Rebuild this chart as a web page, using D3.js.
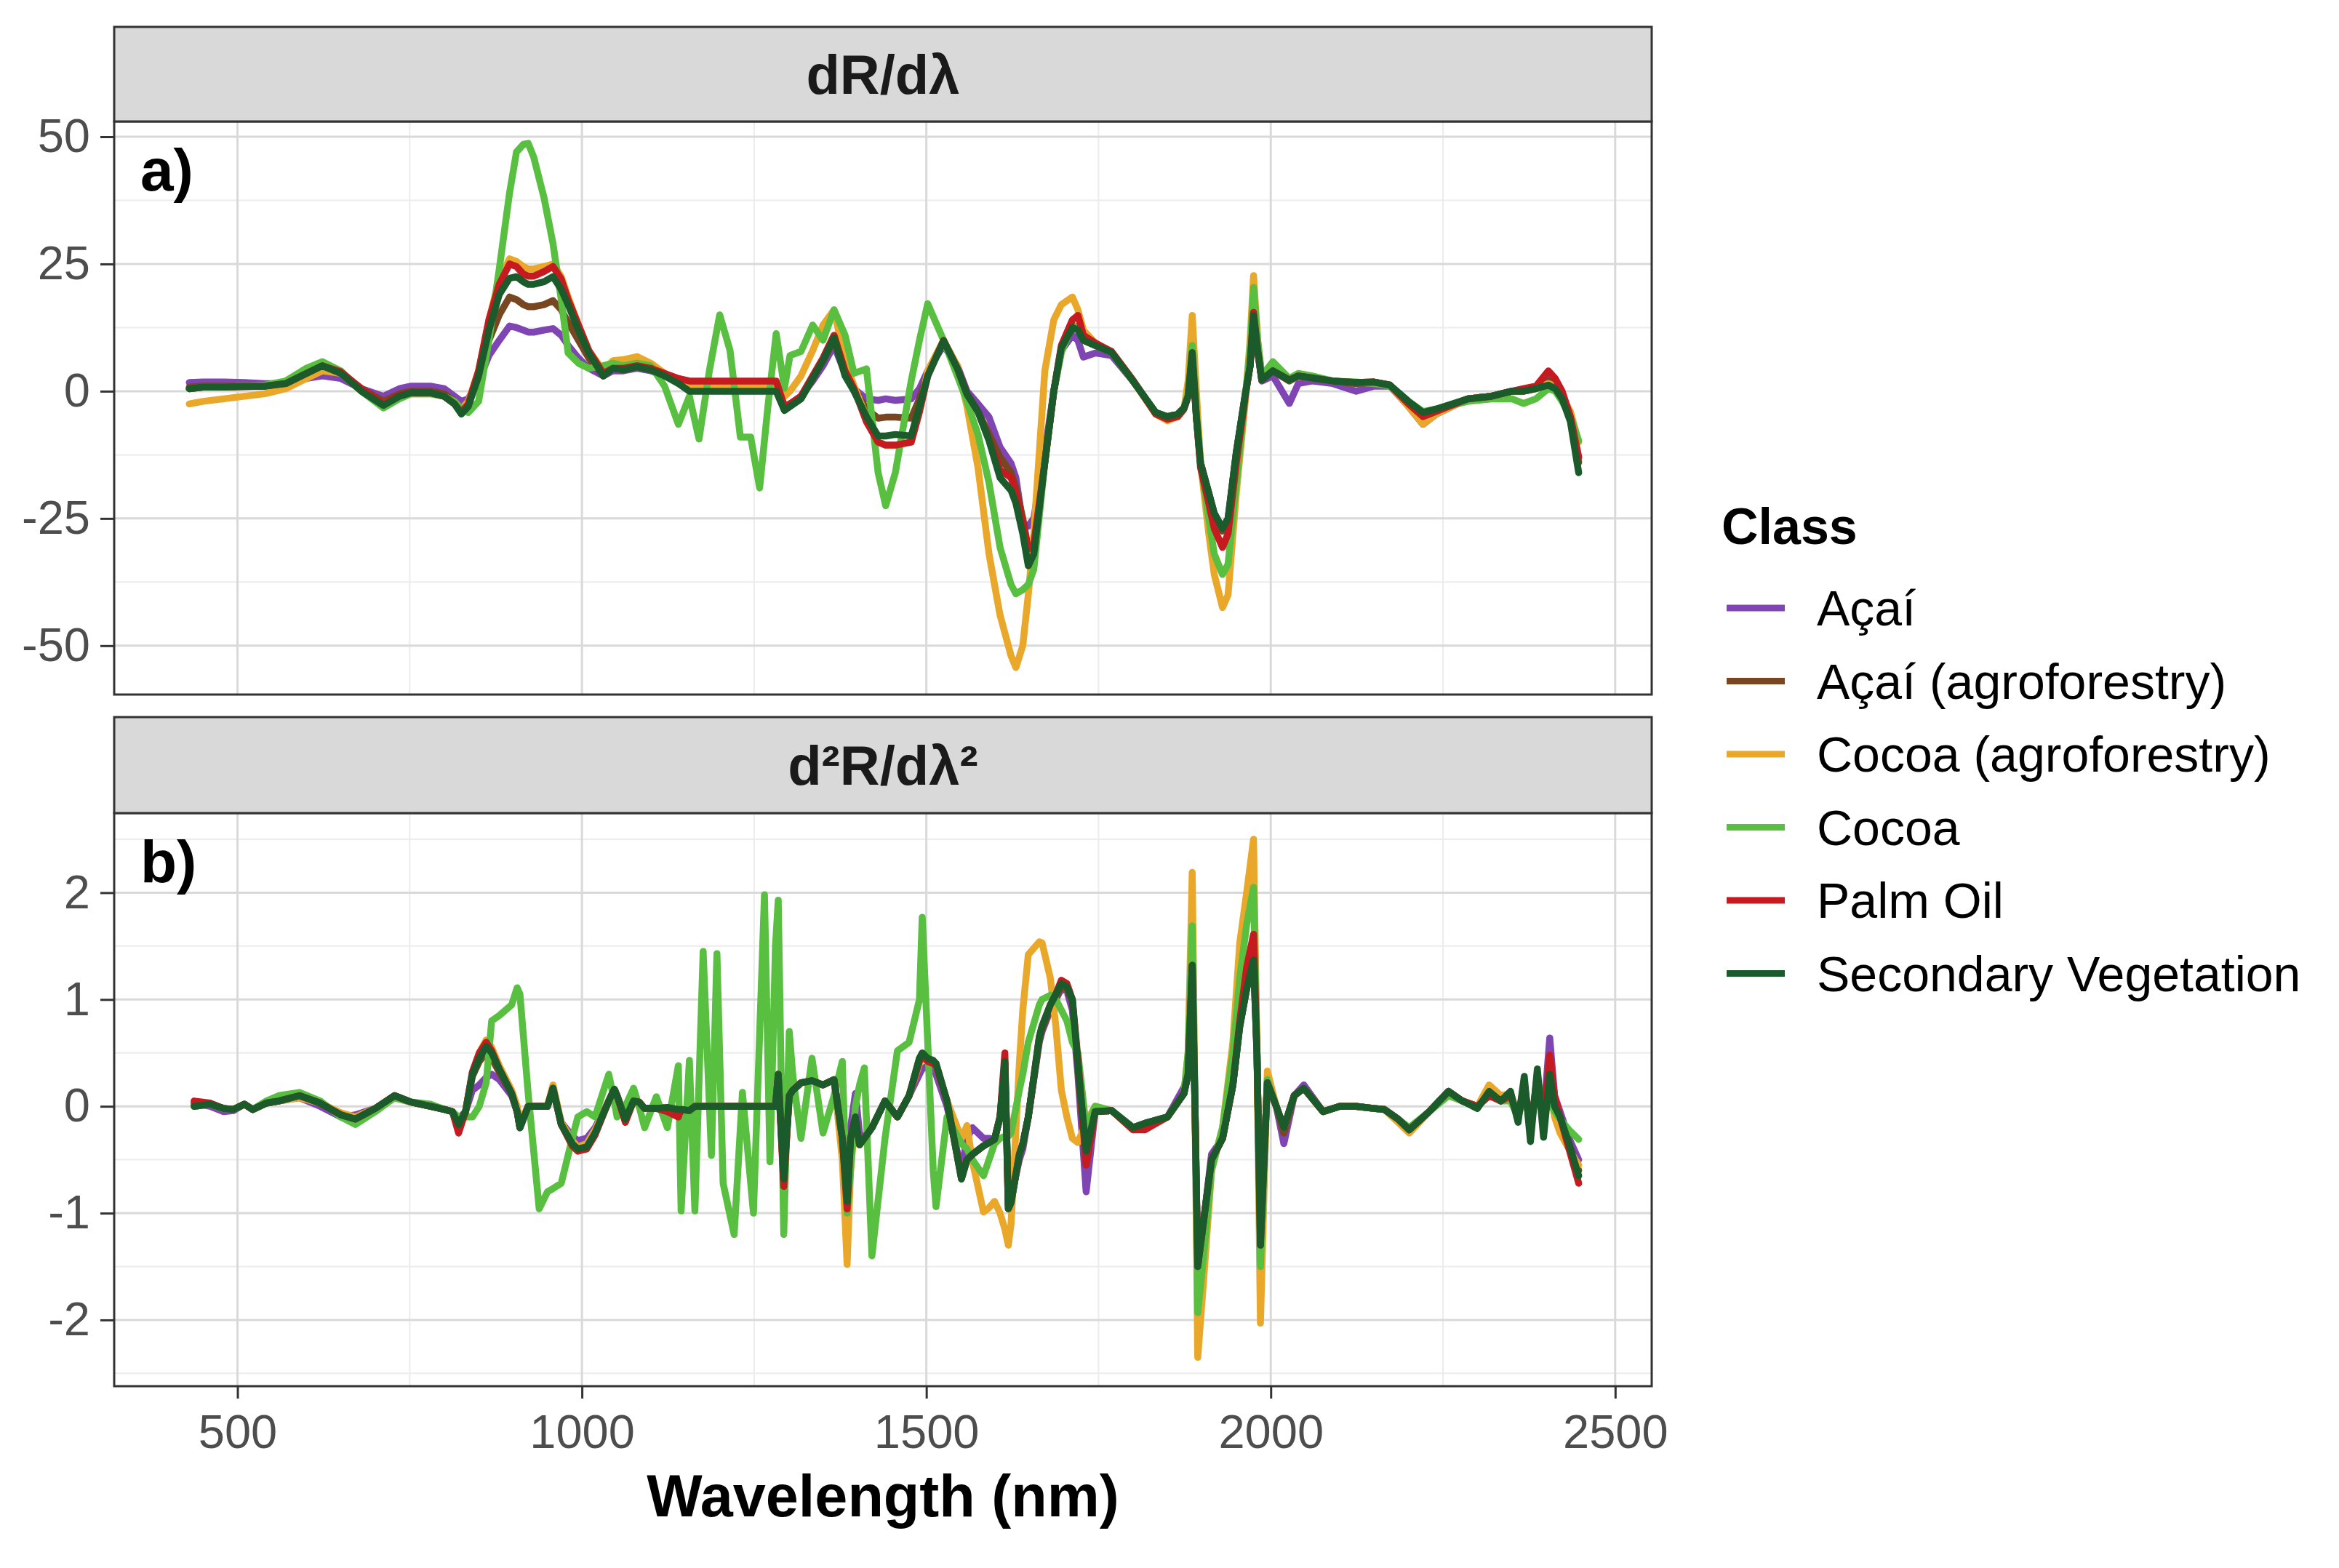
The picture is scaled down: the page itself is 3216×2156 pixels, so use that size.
<!DOCTYPE html>
<html lang="en">
<head>
<meta charset="utf-8">
<title>Derivative spectra by class</title>
<script src="https://d3js.org/d3.v7.min.js"></script>
<style>
  body { margin: 0; background: #ffffff; }
  text { font-family: "Liberation Sans", Arial, sans-serif; }
</style>
</head>
<body>
<script>
// ---- data ----
const classes = ["Açaí", "Açaí (agroforestry)", "Cocoa (agroforestry)", "Cocoa", "Palm Oil", "Secondary Vegetation"];
const classColors = ["#7f45b2", "#784621", "#e9a82a", "#58bf40", "#c51a1f", "#1b5b2b"];
const panelTitles = ["dR/dλ", "d²R/dλ²"];
const panelTags = ["a)", "b)"];
const xTicks = [500, 1000, 1500, 2000, 2500];
const xMinor = [750, 1250, 1750, 2250];
const yTicksA = [-50, -25, 0, 25, 50];
const yMinorA = [-37.5, -12.5, 12.5, 37.5];
const yTicksB = [-2, -1, 0, 1, 2];
const yMinorB = [-2.5, -1.5, -0.5, 0.5, 1.5, 2.5];

// first derivative, wavelength grid (nm)
const wlA = [
  430, 450, 480, 510, 540, 570, 600, 623, 650, 680,
  712, 735, 752, 780, 800, 815, 825, 835, 850, 865,
  880, 895, 905, 915, 922, 930, 945, 958, 970, 980,
  995, 1010, 1031, 1045, 1060, 1080, 1100, 1120, 1140, 1156,
  1170, 1185, 1200, 1215, 1230, 1245, 1258, 1270, 1282, 1294,
  1302, 1318, 1335, 1350, 1366, 1382, 1395, 1413, 1430, 1441,
  1455, 1478, 1490, 1502, 1525, 1545, 1559, 1575, 1591, 1607,
  1623, 1630, 1640, 1648, 1656, 1672, 1685, 1696, 1712, 1720,
  1728, 1745, 1769, 1800, 1833, 1850, 1865, 1874, 1880, 1886,
  1892, 1898, 1910, 1918, 1930, 1938, 1950, 1963, 1970, 1975,
  1981, 1987, 2003, 2027, 2040, 2060, 2090, 2124, 2150, 2173,
  2200, 2221, 2240, 2286, 2320, 2350, 2367, 2385, 2403, 2413,
  2423, 2435, 2447];

const d1Acai = [
  1.7, 1.8, 1.8, 1.7, 1.5, 1.5, 2.5, 3.0, 2.5, 0.5,
  -1.0, 0.5, 1.0, 1.0, 0.5, -1.0, -2.0, -1.5, 2.0, 7.0,
  10.0, 12.8, 12.5, 12.0, 11.6, 11.6, 12.0, 12.3, 11.0, 9.0,
  6.5, 4.5, 3.0, 4.0, 4.0, 4.5, 4.0, 3.0, 2.0, 1.5,
  1.5, 1.5, 1.5, 1.5, 1.5, 1.5, 1.5, 1.5, 1.5, -3.0,
  -2.5, -1.0, 2.0, 5.0, 9.0, 3.5, 0.5, -1.5, -1.8, -1.5,
  -1.8, -1.5, 0.5, 4.0, 9.0, 5.0, 0.0, -2.5, -5.1, -11.0,
  -14.2, -17.0, -26.0, -26.5, -25.0, -12.0, 0.0, 8.0, 11.0, 10.0,
  6.7, 7.5, 7.0, 2.0, -4.2, -5.0, -4.5, -3.3, -1.0, 7.0,
  -5.0, -14.0, -20.0, -24.0, -27.0, -25.0, -12.0, -0.6, 5.0, 14.0,
  8.0, 2.0, 3.0, -2.4, 1.5, 2.0, 1.5, 0.0, 1.0, 1.0,
  -3.0, -6.5, -4.5, -1.5, -1.0, 0.0, 0.0, 0.5, 2.5, 1.5,
  -0.5, -5.0, -13.0];

const d1AcaiAgro = [
  0.8, 1.0, 1.0, 1.0, 1.0, 1.3, 3.0, 4.5, 3.5, 0.5,
  -2.0, -0.5, 0.0, 0.0, -0.5, -2.0, -3.5, -2.0, 3.0, 10.0,
  15.0, 18.5, 18.0, 17.0, 16.6, 16.6, 17.0, 17.8, 16.0, 13.5,
  10.0, 6.5, 3.0, 4.5, 4.2, 4.8, 4.2, 3.0, 2.0, 1.5,
  1.5, 1.5, 1.5, 1.5, 1.5, 1.5, 1.5, 1.5, 1.5, -3.5,
  -3.0, -1.5, 2.5, 6.0, 10.0, 3.5, 0.5, -3.5, -5.3, -5.1,
  -5.1, -5.3, -1.5, 3.5, 9.9, 4.5, -0.5, -4.0, -8.5, -13.0,
  -16.0, -19.0, -25.0, -31.0, -30.0, -14.0, 0.0, 8.5, 12.5, 12.5,
  10.0, 9.0, 7.6, 2.0, -4.2, -5.0, -4.5, -3.3, -1.0, 7.5,
  -5.0, -14.0, -20.0, -24.5, -27.5, -25.5, -12.0, -0.6, 5.0, 14.5,
  8.0, 2.2, 4.0, 2.0, 3.0, 2.6, 2.0, 1.5, 1.8, 1.2,
  -2.5, -5.0, -3.8, -1.5, -1.0, 0.0, 0.0, 0.5, 2.0, 1.0,
  -1.0, -5.5, -14.0];

const d1CocoaAgro = [
  -2.5, -2.0, -1.5, -1.0, -0.5, 0.5, 2.5, 4.0, 3.5, 0.0,
  -2.5, -1.0, -0.5, -0.5, -1.0, -2.0, -3.5, -2.0, 4.0, 14.0,
  22.0, 26.0, 25.5, 24.5, 24.0, 24.0, 24.5, 25.0, 22.5, 18.5,
  13.0, 8.0, 4.0, 6.0, 6.2, 6.8, 5.5, 3.5, 1.5, 1.3,
  1.3, 1.3, 1.3, 1.3, 1.3, 1.3, 1.3, 1.3, 1.3, -1.0,
  0.0, 3.0, 8.0, 13.0, 16.0, 6.0, 1.0, -5.0, -10.0, -10.6,
  -10.6, -10.0, -4.0, 4.0, 10.0, 5.0, -3.0, -15.0, -32.0, -44.0,
  -52.0, -54.3, -50.0, -40.0, -28.0, 4.0, 14.0, 17.0, 18.5, 16.0,
  12.0, 9.5, 7.6, 2.0, -4.5, -5.8, -5.0, -3.5, 2.0, 14.9,
  0.0, -14.0, -28.0, -36.0, -42.5, -40.0, -20.0, -2.0, 10.0, 22.7,
  10.0, 3.0, 5.0, 2.2, 3.0, 2.6, 2.0, 1.7, 1.8, 1.2,
  -3.0, -6.5, -4.5, -1.5, -1.0, 0.0, 0.0, 0.5, 1.5, 1.0,
  -1.0, -4.0, -10.0];

const d1Cocoa = [
  0.5, 0.8, 0.8, 1.0, 1.2, 2.0, 4.5, 5.8, 4.0, 0.0,
  -3.3, -1.5, -0.5, -0.5, -1.0, -2.0, -3.5, -4.2, -2.0, 10.0,
  24.0, 39.0, 47.0, 48.5, 48.7, 46.0, 38.0, 29.0, 18.0, 7.5,
  5.5, 4.5, 5.0, 5.5, 5.0, 5.5, 5.0, 1.0, -6.5, -1.0,
  -9.4, 4.0, 15.0, 8.0, -9.0, -9.0, -19.0, -3.0, 11.3, 0.6,
  7.0, 7.8, 13.0, 10.0, 16.0, 11.0, 3.5, 4.4, -16.0, -22.5,
  -16.0, 2.0, 10.0, 17.2, 10.0, 3.0, -2.0, -8.5, -18.0, -30.7,
  -38.0, -39.8, -39.0, -38.0, -35.0, -14.0, 0.0, 7.6, 13.0, 12.5,
  10.0, 9.0, 7.6, 2.0, -4.2, -5.0, -4.5, -3.3, -0.5, 9.0,
  -4.0, -14.0, -25.0, -32.0, -36.0, -34.0, -18.0, -1.0, 8.0, 20.4,
  10.0, 3.0, 5.8, 2.5, 3.5, 3.0, 2.0, 1.8, 1.5, 1.0,
  -2.0, -4.0, -3.5, -2.0, -1.5, -1.5, -2.4, -1.5, 0.5, 0.0,
  -2.0, -5.0, -9.7];

const d1PalmOil = [
  0.5, 0.8, 0.8, 0.9, 1.0, 1.5, 3.5, 5.0, 3.8, 0.5,
  -2.5, -0.8, -0.3, -0.3, -1.0, -2.5, -4.2, -2.5, 4.0, 14.0,
  21.0, 25.0, 24.5, 23.0, 22.6, 22.6, 23.5, 24.5, 22.0, 18.0,
  13.0, 8.0, 3.5, 4.5, 4.5, 5.0, 4.5, 3.5, 2.5, 2.0,
  2.0, 2.0, 2.0, 2.0, 2.0, 2.0, 2.0, 2.0, 2.0, -3.0,
  -2.5, -1.0, 3.0, 6.5, 11.0, 4.0, 0.5, -6.0, -10.0, -10.6,
  -10.6, -10.0, -4.0, 3.0, 10.0, 4.5, -0.5, -4.0, -9.5, -15.5,
  -17.0, -20.0, -26.0, -31.0, -30.0, -14.0, 0.0, 9.0, 14.0, 14.9,
  11.0, 9.5, 7.8, 2.2, -4.5, -5.5, -5.0, -3.5, -1.0, 7.0,
  -5.0, -15.0, -22.0, -27.0, -30.7, -28.0, -14.0, -1.0, 5.0, 15.5,
  8.0, 2.2, 4.0, 2.2, 3.0, 2.6, 2.0, 1.7, 1.8, 1.2,
  -2.5, -5.0, -4.0, -1.5, -1.0, 0.0, 0.5, 1.0, 4.0, 2.5,
  0.0, -5.0, -13.0];

const d1Secondary = [
  0.5, 0.8, 0.8, 0.9, 1.0, 1.5, 3.5, 5.0, 3.5, 0.0,
  -2.8, -1.0, -0.3, -0.3, -1.0, -2.5, -4.5, -3.0, 3.0, 12.0,
  19.0, 22.2, 22.5, 21.5, 21.0, 21.0, 21.5, 22.5, 20.0, 17.0,
  12.0, 7.5, 3.0, 4.5, 4.2, 4.8, 4.2, 3.0, 1.5, 0.0,
  0.0, 0.0, 0.0, 0.0, 0.0, 0.0, 0.0, 0.0, 0.0, -3.8,
  -3.0, -1.5, 2.5, 6.0, 10.5, 3.0, 0.0, -5.0, -8.8, -8.8,
  -8.5, -8.8, -3.0, 3.0, 9.9, 4.5, -0.6, -4.0, -9.7, -17.0,
  -19.5, -22.0, -28.0, -34.3, -32.0, -14.0, 0.0, 8.5, 12.5, 12.0,
  10.0, 9.0, 7.6, 2.0, -4.2, -5.0, -4.5, -3.3, -1.0, 7.6,
  -5.0, -14.2, -20.0, -24.0, -27.0, -25.0, -12.0, -0.6, 5.0, 14.9,
  8.0, 2.2, 4.0, 2.2, 3.0, 2.6, 2.0, 1.7, 1.8, 1.2,
  -2.0, -4.2, -3.5, -1.5, -1.0, 0.0, 0.0, 0.5, 1.2, 0.5,
  -1.5, -6.0, -16.0];

// second derivative, wavelength grid (nm)
const wlB = [
  437, 460, 480, 494, 510, 522, 542, 560, 590, 620,
  650, 671, 700, 728, 752, 780, 801, 812, 821, 831,
  841, 851, 861, 869, 880, 898, 906, 910, 922, 938,
  950, 958, 970, 986, 994, 1007, 1019, 1039, 1047, 1051,
  1063, 1075, 1083, 1091, 1108, 1124, 1140, 1144, 1156, 1164,
  1176, 1188, 1196, 1205, 1221, 1233, 1249, 1265, 1273, 1281,
  1285, 1293, 1301, 1306, 1318, 1334, 1350, 1366, 1378, 1385,
  1390, 1397, 1403, 1410, 1421, 1440, 1458, 1475, 1490, 1494,
  1502, 1510, 1514, 1530, 1551, 1559, 1567, 1583, 1591, 1599,
  1607, 1614, 1619, 1623, 1635, 1640, 1648, 1664, 1668, 1680,
  1688, 1696, 1704, 1712, 1720, 1732, 1745, 1769, 1800, 1817,
  1850, 1874, 1880, 1886, 1890, 1894, 1904, 1914, 1930, 1945,
  1955, 1965, 1975, 1980, 1985, 1995, 2008, 2019, 2034, 2048,
  2076, 2100, 2124, 2150, 2165, 2185, 2201, 2230, 2258, 2278,
  2300, 2317, 2334, 2348, 2359, 2368, 2377, 2387, 2396, 2405,
  2412, 2420, 2433, 2447];

const d2Acai = [
  0.03, 0.0, -0.05, -0.04, 0.02, -0.03, 0.03, 0.05, 0.08, 0.0,
  -0.1, -0.08, -0.02, 0.08, 0.04, 0.0, -0.03, -0.05, -0.12, -0.05,
  0.15, 0.2, 0.27, 0.3, 0.25, 0.1, -0.05, -0.2, 0.0, 0.0,
  0.0, 0.15, -0.15, -0.28, -0.32, -0.3, -0.2, 0.05, 0.16, 0.1,
  -0.1, 0.05, 0.04, -0.02, -0.02, -0.01, -0.03, -0.03, -0.04, 0.0,
  0.0, 0.0, 0.0, 0.0, 0.0, 0.0, 0.0, 0.0, 0.0, 0.0,
  0.3, -0.55, 0.1, 0.15, 0.22, 0.24, 0.2, 0.25, -0.3, -0.7,
  -0.2, 0.12, -0.25, -0.3, -0.2, 0.05, -0.1, 0.1, 0.3, 0.35,
  0.38, 0.35, 0.3, 0.0, -0.6, -0.3, -0.2, -0.3, -0.3, -0.31,
  -0.1, 0.35, -0.8, -0.85, -0.5, -0.4, -0.1, 0.6, 0.7, 0.9,
  1.0, 1.1, 1.08, 0.9, 0.3, -0.8, -0.05, -0.04, -0.2, -0.16,
  -0.1, 0.18, 0.3, 1.3, 0.0, -1.5, -1.0, -0.45, -0.3, 0.2,
  0.75, 1.1, 1.35, 0.5, -1.3, 0.22, 0.0, -0.35, 0.1, 0.2,
  -0.05, 0.0, 0.0, -0.02, -0.03, -0.12, -0.22, -0.05, 0.14, 0.05,
  0.0, 0.12, 0.05, 0.12, -0.1, 0.15, -0.15, 0.2, -0.1, 0.64,
  0.1, -0.05, -0.3, -0.5];

const d2AcaiAgro = [
  0.02, 0.02, -0.02, -0.03, 0.02, -0.03, 0.03, 0.05, 0.1, 0.03,
  -0.08, -0.12, -0.02, 0.1, 0.04, 0.0, -0.03, -0.05, -0.15, -0.05,
  0.28, 0.42, 0.5, 0.45, 0.32, 0.12, -0.05, -0.2, 0.0, 0.0,
  0.0, 0.17, -0.17, -0.33, -0.38, -0.36, -0.24, 0.05, 0.16, 0.1,
  -0.12, 0.05, 0.04, -0.02, -0.02, -0.01, -0.03, -0.03, -0.04, 0.0,
  0.0, 0.0, 0.0, 0.0, 0.0, 0.0, 0.0, 0.0, 0.0, 0.0,
  0.3, -0.68, 0.1, 0.15, 0.22, 0.24, 0.2, 0.25, -0.3, -0.9,
  -0.3, -0.1, -0.36, -0.3, -0.2, 0.05, -0.1, 0.1, 0.45, 0.48,
  0.45, 0.42, 0.4, 0.05, -0.66, -0.5, -0.45, -0.37, -0.34, -0.31,
  -0.1, 0.4, -0.93, -0.9, -0.45, -0.35, -0.1, 0.62, 0.72, 0.92,
  1.02, 1.12, 1.1, 0.98, 0.36, -0.55, -0.05, -0.04, -0.2, -0.16,
  -0.1, 0.12, 0.3, 1.3, 0.0, -1.5, -1.0, -0.5, -0.3, 0.2,
  0.75, 1.1, 1.4, 0.5, -1.3, 0.22, 0.0, -0.25, 0.1, 0.17,
  -0.05, 0.0, 0.0, -0.02, -0.03, -0.12, -0.22, -0.05, 0.14, 0.05,
  0.0, 0.12, 0.05, 0.12, -0.12, 0.22, -0.25, 0.3, -0.2, 0.35,
  0.0, -0.1, -0.35, -0.6];

const d2CocoaAgro = [
  0.0, 0.02, -0.02, -0.03, 0.02, -0.03, 0.03, 0.05, 0.08, 0.03,
  -0.06, -0.1, -0.02, 0.08, 0.04, 0.0, -0.03, -0.05, -0.2, -0.05,
  0.32, 0.5, 0.62, 0.55, 0.38, 0.15, 0.0, -0.15, 0.0, 0.0,
  0.0, 0.2, -0.15, -0.32, -0.38, -0.35, -0.22, 0.05, 0.16, 0.1,
  -0.1, 0.05, 0.04, -0.02, -0.02, -0.01, -0.03, -0.03, -0.04, 0.0,
  0.0, 0.0, 0.0, 0.0, 0.0, 0.0, 0.0, 0.0, 0.0, 0.0,
  0.3, -0.7, 0.1, 0.15, 0.22, 0.24, 0.2, 0.25, -0.5, -1.48,
  -0.6, -0.1, -0.36, -0.3, -0.2, 0.05, -0.1, 0.1, 0.4, 0.45,
  0.42, 0.4, 0.38, 0.05, -0.3, -0.18, -0.52, -0.99, -0.95, -0.89,
  -1.0, -1.15, -1.3, -1.1, 0.4, 0.9, 1.42, 1.54, 1.53, 1.2,
  0.75, 0.15, -0.1, -0.3, -0.34, -0.15, 0.0, -0.04, -0.22, -0.2,
  -0.1, 0.12, 0.5, 2.19, 0.0, -2.35, -1.5, -0.6, -0.2, 0.6,
  1.53, 2.0, 2.5, 0.5, -2.03, 0.33, 0.0, -0.2, 0.1, 0.17,
  -0.05, 0.0, 0.0, -0.02, -0.03, -0.15, -0.25, -0.05, 0.14, 0.05,
  0.0, 0.2, 0.1, 0.12, -0.08, 0.15, -0.15, 0.2, -0.12, 0.2,
  -0.1, -0.25, -0.4, -0.55];

const d2Cocoa = [
  0.0, 0.02, -0.02, -0.03, 0.02, -0.03, 0.05, 0.1, 0.13, 0.05,
  -0.1, -0.17, -0.05, 0.08, 0.04, 0.02, -0.03, -0.05, -0.1, -0.1,
  -0.1, 0.0, 0.22, 0.8, 0.85, 0.95, 1.11, 1.05, 0.12, -0.96,
  -0.8, -0.77, -0.72, -0.3, -0.1, -0.05, -0.1, 0.3, 0.05, -0.1,
  0.0, 0.17, 0.0, -0.2, 0.09, -0.2, 0.38, -0.98, 0.43, -0.98,
  1.45, -0.46, 1.43, -0.72, -1.2, 0.13, -1.0, 1.98, -0.52, 1.5,
  1.93, -1.2, 0.7, 0.3, -0.3, 0.45, -0.25, 0.1, 0.42, -1.0,
  -0.6, 0.0, 0.2, 0.36, -1.4, -0.3, 0.52, 0.6, 1.0, 1.77,
  0.6, -0.6, -0.94, -0.1, -0.35, -0.4, -0.5, -0.65, -0.5, -0.35,
  -0.3, -0.28, -0.28, -0.25, 0.15, 0.3, 0.6, 0.95, 1.0, 1.04,
  1.0, 0.9, 0.8, 0.6, 0.5, -0.2, 0.0, -0.04, -0.2, -0.2,
  -0.1, 0.12, 0.5, 1.69, 0.0, -1.93, -1.3, -0.6, -0.2, 0.5,
  1.2, 1.7, 2.05, 0.5, -1.5, 0.25, 0.0, -0.2, 0.1, 0.17,
  -0.05, 0.0, 0.0, -0.02, -0.03, -0.12, -0.2, -0.05, 0.1, 0.05,
  0.0, 0.1, 0.05, 0.05, -0.1, 0.1, -0.12, 0.1, -0.08, 0.05,
  -0.05, -0.12, -0.22, -0.31];

const d2PalmOil = [
  0.05, 0.03, -0.02, -0.03, 0.02, -0.03, 0.03, 0.05, 0.1, 0.03,
  -0.08, -0.12, -0.02, 0.1, 0.04, 0.0, -0.03, -0.05, -0.25, -0.05,
  0.32, 0.5, 0.6, 0.52, 0.35, 0.12, -0.05, -0.2, 0.0, 0.0,
  0.0, 0.17, -0.17, -0.37, -0.42, -0.4, -0.27, 0.05, 0.16, 0.1,
  -0.15, 0.05, 0.04, -0.02, -0.02, -0.05, -0.1, -0.03, -0.04, 0.0,
  0.0, 0.0, 0.0, 0.0, 0.0, 0.0, 0.0, 0.0, 0.0, 0.0,
  0.3, -0.75, 0.1, 0.15, 0.22, 0.24, 0.2, 0.25, -0.3, -0.96,
  -0.3, -0.1, -0.36, -0.3, -0.2, 0.05, -0.1, 0.1, 0.42, 0.48,
  0.42, 0.4, 0.38, 0.05, -0.68, -0.5, -0.45, -0.37, -0.34, -0.31,
  -0.1, 0.5, -0.96, -0.9, -0.45, -0.35, -0.1, 0.65, 0.75, 0.95,
  1.05, 1.18, 1.15, 1.0, 0.45, -0.55, -0.05, -0.04, -0.22, -0.22,
  -0.1, 0.12, 0.3, 1.32, 0.0, -1.5, -1.0, -0.5, -0.3, 0.2,
  0.8, 1.3, 1.61, 0.5, -1.3, 0.22, 0.0, -0.2, 0.1, 0.17,
  -0.05, 0.0, 0.0, -0.02, -0.03, -0.12, -0.22, -0.05, 0.14, 0.05,
  0.0, 0.1, 0.05, 0.1, -0.1, 0.2, -0.2, 0.25, -0.15, 0.48,
  0.1, -0.1, -0.4, -0.72];

const d2Secondary = [
  0.0, 0.02, -0.02, -0.03, 0.02, -0.03, 0.03, 0.05, 0.1, 0.03,
  -0.08, -0.12, -0.02, 0.1, 0.04, 0.0, -0.03, -0.05, -0.17, -0.05,
  0.3, 0.45, 0.56, 0.5, 0.35, 0.12, -0.05, -0.2, 0.0, 0.0,
  0.0, 0.17, -0.17, -0.35, -0.4, -0.38, -0.25, 0.05, 0.16, 0.1,
  -0.12, 0.05, 0.04, -0.02, -0.02, -0.01, -0.03, -0.03, -0.04, 0.0,
  0.0, 0.0, 0.0, 0.0, 0.0, 0.0, 0.0, 0.0, 0.0, 0.0,
  0.3, -0.68, 0.1, 0.15, 0.22, 0.24, 0.2, 0.25, -0.3, -0.89,
  -0.3, -0.1, -0.36, -0.3, -0.2, 0.05, -0.1, 0.1, 0.45, 0.5,
  0.45, 0.43, 0.4, 0.05, -0.68, -0.5, -0.45, -0.37, -0.34, -0.31,
  -0.1, 0.42, -0.96, -0.9, -0.45, -0.35, -0.1, 0.65, 0.75, 0.95,
  1.05, 1.15, 1.12, 1.0, 0.39, -0.42, -0.05, -0.04, -0.2, -0.16,
  -0.1, 0.12, 0.3, 1.32, 0.0, -1.5, -1.0, -0.5, -0.3, 0.2,
  0.75, 1.1, 1.37, 0.5, -1.3, 0.22, 0.0, -0.2, 0.1, 0.17,
  -0.05, 0.0, 0.0, -0.02, -0.03, -0.12, -0.22, -0.05, 0.14, 0.05,
  -0.02, 0.14, 0.05, 0.14, -0.15, 0.28, -0.33, 0.35, -0.29, 0.3,
  0.0, -0.1, -0.35, -0.65];

// ---- layout ----
const W = 3216, H = 2156;
const plotLeft = 157, plotRight = 2271;
const panels = [
  { stripTop: 37, top: 167, bottom: 955, wl: wlA,
    values: [d1Acai, d1AcaiAgro, d1CocoaAgro, d1Cocoa, d1PalmOil, d1Secondary],
    yDomain: [-59.6, 53.0], ticks: yTicksA, minor: yMinorA },
  { stripTop: 986, top: 1118, bottom: 1906, wl: wlB,
    values: [d2Acai, d2AcaiAgro, d2CocoaAgro, d2Cocoa, d2PalmOil, d2Secondary],
    yDomain: [-2.62, 2.745], ticks: yTicksB, minor: yMinorB }
];

const svg = d3.select("body").append("svg")
    .attr("width", W)
    .attr("height", H)
    .style("background-color", "#ffffff");

const x = d3.scaleLinear()
    .domain([321, 2553])
    .range([plotLeft, plotRight]);

panels.forEach(function(p, k) {
    const y = d3.scaleLinear().domain(p.yDomain).range([p.bottom, p.top]);
    const g = svg.append("g");

    // grid
    g.selectAll(".xminor").data(xMinor).join("line")
        .attr("x1", d => x(d)).attr("x2", d => x(d))
        .attr("y1", p.top).attr("y2", p.bottom)
        .attr("stroke", "#ececec").attr("stroke-width", 2);
    g.selectAll(".yminor").data(p.minor).join("line")
        .attr("x1", plotLeft).attr("x2", plotRight)
        .attr("y1", d => y(d)).attr("y2", d => y(d))
        .attr("stroke", "#ececec").attr("stroke-width", 2);
    g.selectAll(".xmajor").data(xTicks).join("line")
        .attr("x1", d => x(d)).attr("x2", d => x(d))
        .attr("y1", p.top).attr("y2", p.bottom)
        .attr("stroke", "#d9d9d9").attr("stroke-width", 3);
    g.selectAll(".ymajor").data(p.ticks).join("line")
        .attr("x1", plotLeft).attr("x2", plotRight)
        .attr("y1", d => y(d)).attr("y2", d => y(d))
        .attr("stroke", "#d9d9d9").attr("stroke-width", 3);

    // spectra, drawn in class order so Secondary Vegetation ends on top
    const line = d3.line()
        .x(d => x(d[0]))
        .y(d => y(d[1]));
    p.values.forEach(function(vals, i) {
        if (vals.length !== p.wl.length) console.warn("length mismatch", k, i, vals.length, p.wl.length);
        const pts = p.wl.map((w, j) => [w, vals[j]]);
        g.append("path")
            .datum(pts)
            .attr("d", line)
            .attr("fill", "none")
            .attr("stroke", classColors[i])
            .attr("stroke-width", 9.5)
            .attr("stroke-linejoin", "round")
            .attr("stroke-linecap", "round");
    });

    // panel border
    g.append("rect")
        .attr("x", plotLeft).attr("y", p.top)
        .attr("width", plotRight - plotLeft).attr("height", p.bottom - p.top)
        .attr("fill", "none").attr("stroke", "#333333").attr("stroke-width", 3);

    // strip
    g.append("rect")
        .attr("x", plotLeft).attr("y", p.stripTop)
        .attr("width", plotRight - plotLeft).attr("height", p.top - p.stripTop)
        .attr("fill", "#d9d9d9").attr("stroke", "#333333").attr("stroke-width", 3);
    g.append("text")
        .attr("x", (plotLeft + plotRight) / 2)
        .attr("y", (p.stripTop + p.top) / 2)
        .attr("dy", "0.36em")
        .attr("text-anchor", "middle")
        .attr("font-size", "76px")
        .attr("font-weight", 700)
        .attr("fill", "#1a1a1a")
        .text(panelTitles[k]);

    // panel tag
    g.append("text")
        .attr("x", plotLeft + 36)
        .attr("y", p.top + 95)
        .attr("font-size", "82px")
        .attr("font-weight", 700)
        .attr("fill", "#000000")
        .text(panelTags[k]);

    // y axis
    const yAxis = d3.axisLeft(y)
        .tickValues(p.ticks)
        .tickSize(19)
        .tickPadding(14)
        .tickFormat(d => String(d));
    const ya = g.append("g")
        .attr("transform", `translate(${plotLeft},0)`)
        .call(yAxis);
    ya.select(".domain").remove();
    ya.selectAll(".tick line").attr("stroke", "#333333").attr("stroke-width", 3);
    ya.selectAll(".tick text")
        .attr("font-family", "Liberation Sans, Arial, sans-serif")
        .attr("font-size", "65px")
        .attr("fill", "#4d4d4d");

    // x axis only under the last panel
    if (k === panels.length - 1) {
        const xAxis = d3.axisBottom(x)
            .tickValues(xTicks)
            .tickSize(17)
            .tickPadding(22)
            .tickFormat(d => String(d));
        const xa = g.append("g")
            .attr("transform", `translate(0,${p.bottom})`)
            .call(xAxis);
        xa.select(".domain").remove();
        xa.selectAll(".tick line").attr("stroke", "#333333").attr("stroke-width", 3);
        xa.selectAll(".tick text")
            .attr("font-family", "Liberation Sans, Arial, sans-serif")
            .attr("font-size", "65px")
            .attr("fill", "#4d4d4d");
    }
});

// x axis title
svg.append("text")
    .attr("x", (plotLeft + plotRight) / 2)
    .attr("y", 2085)
    .attr("text-anchor", "middle")
    .attr("font-size", "81px")
    .attr("font-weight", 700)
    .attr("fill", "#000000")
    .text("Wavelength (nm)");

// legend
const legend = svg.append("g").attr("transform", "translate(2367,0)");
legend.append("text")
    .attr("x", 0)
    .attr("y", 748)
    .attr("font-size", "70px")
    .attr("font-weight", 700)
    .attr("fill", "#000000")
    .text("Class");

const items = legend.selectAll(".item")
    .data(classes)
    .join("g")
    .attr("transform", (d, i) => `translate(0,${836 + i * 100.5})`);
items.append("line")
    .attr("x1", 7).attr("x2", 87)
    .attr("y1", 0).attr("y2", 0)
    .attr("stroke", (d, i) => classColors[i])
    .attr("stroke-width", 9);
items.append("text")
    .attr("x", 131)
    .attr("y", 0)
    .attr("dy", "0.36em")
    .attr("font-size", "68px")
    .attr("fill", "#000000")
    .text(d => d);
</script>
</body>
</html>
